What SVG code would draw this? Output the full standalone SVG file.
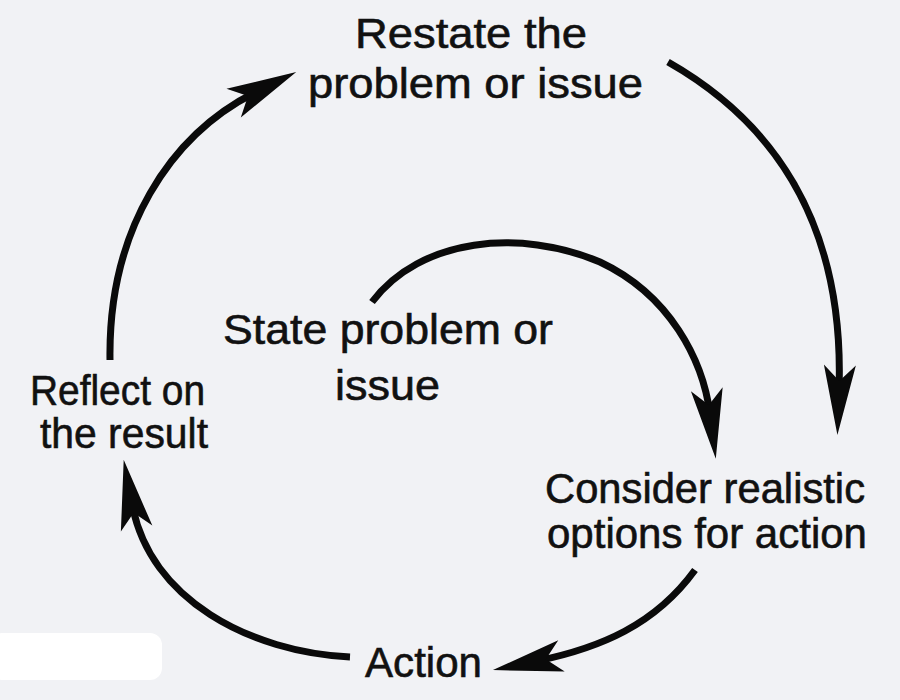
<svg xmlns="http://www.w3.org/2000/svg" width="900" height="700" viewBox="0 0 900 700">
<style>
.lbl{font-family:"Liberation Sans",Arial,Helvetica,sans-serif;font-size:42px;fill:#111;stroke:#111;stroke-width:0.6px;}
.arc{fill:none;stroke:#0a0a0a;stroke-width:7;stroke-linecap:butt;}
</style>
<defs>
<marker id="head" markerUnits="userSpaceOnUse" viewBox="-30 -20 80 40" refX="0" refY="0" markerWidth="80" markerHeight="40" orient="auto" overflow="visible">
<path d="M45,0 L-25,-16 L-9,0 L-25,16 Z" fill="#0a0a0a"/>
</marker>
</defs>
<rect x="0" y="0" width="900" height="700" fill="#f1f2f5"/>
<rect x="-10" y="633" width="172" height="47" rx="12" fill="#ffffff"/>
<g id="connectors">
<path class="arc" d="M110,360 C108,230 170,135 256,92" marker-end="url(#head)"/>
<path class="arc" d="M668,62 C770,120 845,220 839,390" marker-end="url(#head)"/>
<path class="arc" d="M372,302 C420,238 520,228 600,262 C670,295 703,360 710,414" marker-end="url(#head)"/>
<path class="arc" d="M695,570 C655,625 600,648 537,661" marker-end="url(#head)"/>
<path class="arc" d="M350,657 C250,652 150,600 132,504" marker-end="url(#head)"/>
</g>
<g id="restate">
<text class="lbl" x="355" y="48" textLength="232" lengthAdjust="spacingAndGlyphs">Restate the</text>
<text class="lbl" x="308" y="98" textLength="335" lengthAdjust="spacingAndGlyphs">problem or issue</text>
</g>
<g id="state">
<text class="lbl" x="223" y="344" textLength="330" lengthAdjust="spacingAndGlyphs">State problem or</text>
<text class="lbl" x="335" y="400" textLength="105" lengthAdjust="spacingAndGlyphs">issue</text>
</g>
<g id="reflect">
<text class="lbl" x="30" y="405" textLength="175" lengthAdjust="spacingAndGlyphs">Reflect on</text>
<text class="lbl" x="40" y="448" textLength="168" lengthAdjust="spacingAndGlyphs">the result</text>
</g>
<g id="consider">
<text class="lbl" x="545" y="503" textLength="320" lengthAdjust="spacingAndGlyphs">Consider realistic</text>
<text class="lbl" x="547" y="548" textLength="320" lengthAdjust="spacingAndGlyphs">options for action</text>
</g>
<g id="action">
<text class="lbl" x="365" y="677" textLength="117" lengthAdjust="spacingAndGlyphs">Action</text>
</g>
</svg>
